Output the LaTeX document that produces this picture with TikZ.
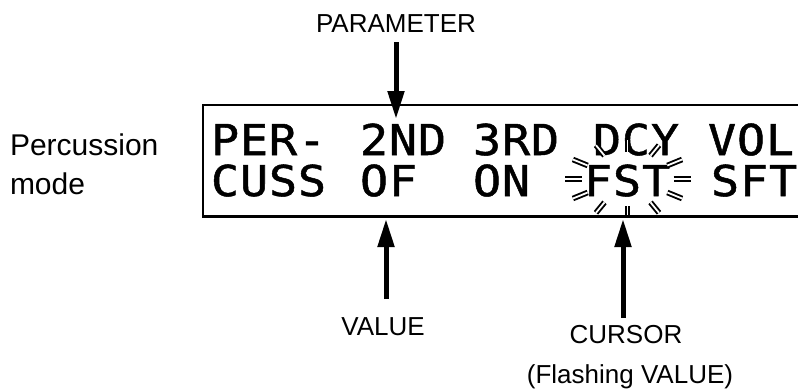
\documentclass[tikz,border=0pt]{standalone}
\usepackage{fontspec}
\setmainfont{Liberation Sans}
\newfontfamily\lcdfont[FakeStretch=1.1, FakeBold=1.2, LetterSpace=2]{DejaVu Sans Mono}
\usetikzlibrary{arrows.meta, positioning, calc}

\begin{document}
\begin{tikzpicture}[x=1pt, y=-1pt,
    every node/.style={inner sep=0pt, outer sep=0pt},
    lbl/.style = {font=\fontsize{26}{30}\selectfont, anchor=base},
    side/.style = {font=\fontsize{30}{36}\selectfont, anchor=base west},
    lcd/.style = {font=\lcdfont\fontsize{42.5}{44}\selectfont, anchor=base west},
    arr/.style = {-{Triangle[length=28pt,width=16pt]}, line width=5pt},
    ray/.style = {double=white, double distance=1.8pt, line width=1.9pt},
    dispbox/.style = {rectangle, draw, line width=2.5pt, anchor=north west,
                      minimum width=650pt, minimum height=111.5pt}
]
\useasboundingbox (0,0) rectangle (798,389);
\clip (0,0) rectangle (798,389);

\node (perc) [side] at (10,155) {Percussion};
\node (mode) [side] at (10,194) {mode};

% display text
\node (per)   [lcd] at (211,155) {PER-};
\node (secnd) [lcd] at (360,155) {2ND};
\node (third) [lcd] at (473,155) {3RD};
\node (dcy)   [lcd] at (593,155) {DCY};
\node (vol)   [lcd] at (708,155) {VOL};
\node (cuss)  [lcd] at (211,196) {CUSS};
\node (of)    [lcd] at (360,196) {OF};
\node (on)    [lcd] at (473,196) {ON};
\node (fst)   [lcd] at (584,196) {FST};
\node (sft)   [lcd] at (711,196) {SFT};

% flashing marks round the cursor
\coordinate (burst) at (627.5,179);
\foreach \a in {0,30,...,330}
  \draw[ray] ($(burst)+({46*cos(\a)},{27*sin(\a)})$) -- ($(burst)+({63*cos(\a)},{39*sin(\a)})$);

\node (disp) [dispbox] at (203,104.75) {};

\node (param)  [lbl] at (396,32)  {PARAMETER};
\node (value)  [lbl] at (383,335) {VALUE};
\node (cursor) [lbl] at (626,343) {CURSOR};
\node (flash)  [lbl] at (630,383) {(Flashing VALUE)};

\coordinate (paramtip)  at (396,119);
\coordinate (valuetip)  at (386,219);
\coordinate (cursortip) at (623,219);

\draw[arr, shorten <=10pt] (param.south) -- (paramtip);
\draw[arr, shorten <=18pt] (value.north -| valuetip) -- (valuetip);
\draw[arr, shorten <=7pt]  (cursor.north -| cursortip) -- (cursortip);

\end{tikzpicture}
\end{document}
